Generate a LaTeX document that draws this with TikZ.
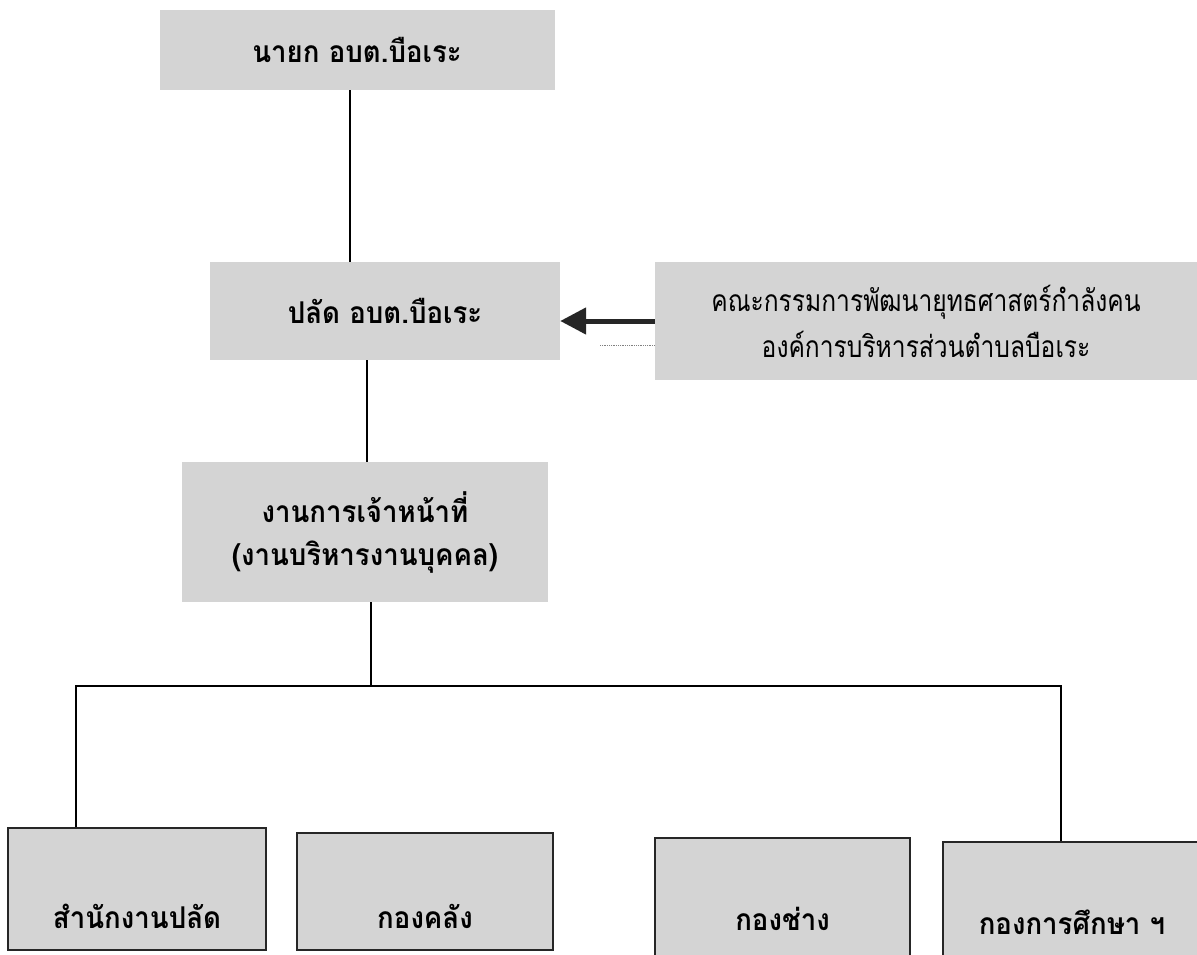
\documentclass[tikz,border=0pt]{standalone}
\usepackage{fontspec}
\setmainfont{Loma}[Script=Thai,FakeStretch=0.92]
\newfontfamily\narrowthai{Loma}[Script=Thai,FakeStretch=0.82]
\usetikzlibrary{arrows.meta}

\tikzset{
    every node/.style={rectangle, inner xsep=0pt, inner ysep=0pt, fill=black!17,
        font=\fontsize{30}{43}\selectfont\bfseries},
    unit/.style={draw=black!85, line width=1.6pt},
    link/.style={draw=black, line width=1.5pt}
}

\begin{document}
\begin{tikzpicture}[x=1pt, y=-1pt]
        \useasboundingbox (0,0) rectangle (1197,955);
        \node (nayok) [minimum width=395pt, minimum height=80pt] at (357,50) {นายก อบต.บือเระ};
        \node (palad) [minimum width=350pt, minimum height=98pt] at (385,311) {ปลัด อบต.บือเระ};
        \node (ngan) [minimum width=366pt, minimum height=140pt, align=center] at (365,532) {งานการเจ้าหน้าที่\\(งานบริหารงานบุคคล)};
        \node (cmte) [minimum width=542pt, minimum height=118pt, align=center,
                font=\fontsize{30}{46}\selectfont\narrowthai] at (926,321)
                {คณะกรรมการพัฒนายุทธศาสตร์กำลังคน\\องค์การบริหารส่วนตำบลบือเระ};
        \node (b1) [unit, minimum width=258pt, text height=100pt, text depth=22pt] at (137,889) {สำนักงานปลัด};
        \node (b2) [unit, minimum width=256pt, text height=95pt, text depth=22pt] at (425,891.5) {กองคลัง};
        \node (b3) [unit, minimum width=255pt, text height=92pt, text depth=32pt] at (782.5,900) {กองช่าง};
        \node (b4) [unit, minimum width=258pt, text height=92pt, text depth=32pt] at (1072,904) {กองการศึกษา ฯ};
        \coordinate (jl) at (76,686);
        \coordinate (jr) at (1061,686);
        \coordinate (dots) at (600,345);
        \draw[link] ([xshift=-7pt]nayok.south) -- ([xshift=-7pt]nayok.south |- palad.north);
        \draw[link] ([xshift=2pt]ngan.north) -- ([xshift=2pt]ngan.north |- palad.south);
        \draw[link] ([xshift=6pt]ngan.south) -- ([xshift=6pt]ngan.south |- jl);
        \draw[link] (b1.north -| jl) -- (jl) -- (jr) -- (jr |- b4.north);
        \draw[-{Triangle[length=26pt,width=26pt]}, line width=5pt, black!85] (cmte.west) -- (cmte.west -| palad.east);
        \draw[densely dotted, black!50, line width=0.8pt] (dots) -- (dots -| cmte.west);
\end{tikzpicture}
\end{document}
